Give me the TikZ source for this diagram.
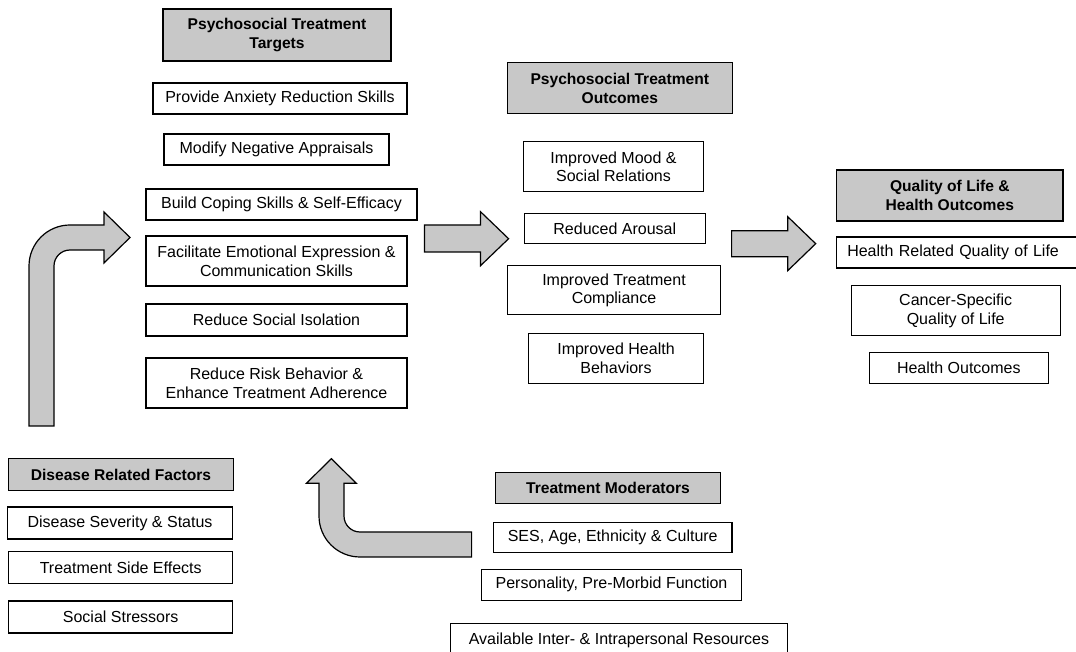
\documentclass[tikz,border=0pt]{standalone}
\usepackage{fontspec}
\setmainfont{Liberation Sans}
\definecolor{boxgray}{RGB}{200,200,200}
\tikzset{
  box/.style={draw, line width=0.9pt, inner sep=2pt, align=center, font=\fontsize{12}{14}\selectfont},
  headbox/.style={box, fill=boxgray, font=\bfseries\fontsize{11.7}{14}\selectfont},
  blockarrow/.style={draw, line width=0.9pt, fill=boxgray, line join=miter}
}
\begin{document}
\begin{tikzpicture}[x=0.75pt,y=-0.75pt]
  \useasboundingbox (0,0) rectangle (1076,652);
  % targets
  \node[headbox, minimum width=171pt, minimum height=39pt] (tgthead) at (277,35) {Psychosocial Treatment\\Targets};
  \node[box, minimum width=190.5pt, minimum height=23.25pt] (tgtA) at (280,98.5) {Provide Anxiety Reduction Skills};
  \node[box, minimum width=168.75pt, minimum height=23.25pt] (tgtB) at (276.5,149.5) {Modify Negative Appraisals};
  \node[box, minimum width=203.25pt, minimum height=23.25pt] (tgtC) at (281.5,204.5) {Build Coping Skills \& Self-Efficacy};
  \node[box, minimum width=195.75pt, minimum height=37.5pt] (tgtD) at (276.5,261) {Facilitate Emotional Expression \&\\Communication Skills};
  \node[box, minimum width=195.75pt, minimum height=24pt] (tgtE) at (276.5,320) {Reduce Social Isolation};
  \node[box, minimum width=195.75pt, minimum height=37.5pt] (tgtF) at (276.5,383) {Reduce Risk Behavior \&\\Enhance Treatment Adherence};
  % outcomes
  \node[headbox, minimum width=168.75pt, minimum height=38.25pt] (outhead) at (619.8,88.3) {Psychosocial Treatment\\Outcomes};
  \node[box, minimum width=135pt, minimum height=37.5pt] (outA) at (613.5,166.8) {Improved Mood \&\\Social Relations};
  \node[box, minimum width=135.75pt, minimum height=22.5pt] (outB) at (614.8,228.7) {Reduced Arousal};
  \node[box, minimum width=159.75pt, minimum height=36.75pt] (outC) at (614,290.3) {Improved Treatment\\Compliance};
  \node[box, minimum width=130.9pt, minimum height=37.5pt] (outD) at (616,358.3) {Improved Health\\Behaviors};
  % quality of life
  \node[headbox, minimum width=169.9pt, minimum height=38.25pt] (qolhead) at (949.8,195.5) {Quality of Life \&\\Health Outcomes};
  \node[box, inner xsep=8pt, text width=171pt, align=left, minimum height=23.25pt] (qolA) at (961.25,252.5) {Health Related Quality of Life};
  \node[box, minimum width=156.75pt, minimum height=37.5pt] (qolB) at (955.7,310.7) {Cancer-Specific\\Quality of Life};
  \node[box, minimum width=134.25pt, minimum height=23.25pt] (qolC) at (958.8,367.8) {Health Outcomes};
  % disease factors
  \node[headbox, minimum width=168.75pt, minimum height=24pt] (dishead) at (121,474.7) {Disease Related Factors};
  \node[box, minimum width=168.75pt, minimum height=24pt] (disA) at (120,523) {Disease Severity \& Status};
  \node[box, minimum width=168pt, minimum height=24pt] (disB) at (120.7,567.7) {Treatment Side Effects};
  \node[box, minimum width=168pt, minimum height=24pt] (disC) at (120.7,617) {Social Stressors};
  % moderators
  \node[headbox, minimum width=168.75pt, minimum height=23.25pt] (modhead) at (608,487.7) {Treatment Moderators};
  \node[box, minimum width=178.9pt, minimum height=22.5pt] (modA) at (612.7,537.5) {SES, Age, Ethnicity \& Culture};
  \node[box, minimum width=195pt, minimum height=23.25pt] (modB) at (611.5,584.7) {Personality, Pre-Morbid Function};
  \node[box, minimum width=252.5pt, minimum height=26pt] (modC) at (619,640.6) {Available Inter- \& Intrapersonal Resources};
  % block arrows
  \draw[blockarrow] (29,426) -- (29,266) arc(180:270:41) -- (104,225) -- (104,212) -- (130,237.5)
    -- (104,263) -- (104,250) -- (70,250) arc(270:180:16) -- (54,426) -- cycle;
  \draw[blockarrow] (424.4,225) -- (480.5,225) -- (480.5,211.7) -- (508.6,238.7)
    -- (480.5,265.7) -- (480.5,252) -- (424.4,252) -- cycle;
  \draw[blockarrow] (731.6,230.7) -- (787.7,230.7) -- (787.7,216.7) -- (815.7,243.7)
    -- (787.7,270.7) -- (787.7,256.7) -- (731.6,256.7) -- cycle;
  \draw[blockarrow] (471.6,532) -- (360,532) arc(90:180:16) -- (344,483.3) -- (356.3,483.3) -- (331.4,458.7)
    -- (306.4,483.3) -- (319,483.3) -- (319,516) arc(180:90:41) -- (471.6,557) -- cycle;
\end{tikzpicture}
\end{document}
